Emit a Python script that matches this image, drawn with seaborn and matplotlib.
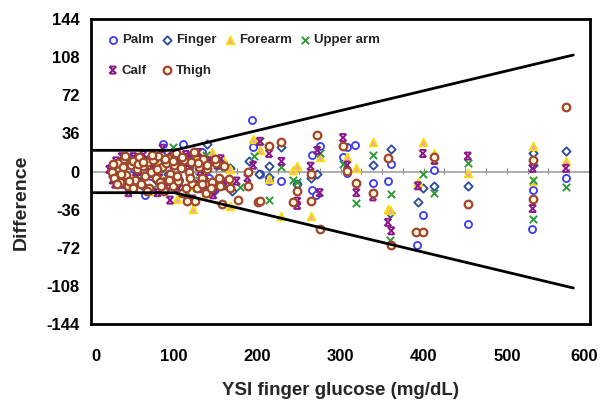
import numpy as np
import pandas as pd
import matplotlib
matplotlib.use("Agg")
import matplotlib.pyplot as plt
from matplotlib.path import Path
from matplotlib.ticker import MultipleLocator
from matplotlib.transforms import ScaledTranslation
import seaborn as sns

# ---------------- data ----------------
palm_x = [24, 30, 36, 44, 52, 58, 65, 72, 80, 86, 92, 100, 106, 111, 118, 126, 134, 142, 150, 158,
          194, 195, 203, 214, 229, 248, 266, 266, 270, 275, 303, 308, 308, 318, 339, 357, 361, 392, 399,
          413, 453, 530, 531, 571]
palm_y = [4, -6, 10, -12, 2, 14, -22, -4, 8, 26, -14, 12, -8, 26, 4, -16, 18, -6, 10, -12,
          49, 23, -2, -9, -9, -12, 16, -17, -22, 24.5, 14, 23, -1, 25, -11, -9, 7, -69, -41,
          1, -50, -54, -17, -6]

finger_x = [26, 33, 40, 48, 55, 62, 70, 78, 85, 93, 100, 108, 116, 124, 132, 140, 148, 156,
            167, 170, 190, 202, 214, 214, 229, 248, 264, 272, 339, 359, 361, 393, 399, 413, 453, 531, 532, 571]
finger_y = [-4, 8, -10, 12, 0, -14, 6, -8, 16, -2, 10, -16, 4, 14, -12, 26, -18, 8,
            3, -18, 10, -2, 5, -5, 23.5, -12, -6, -2, 6, -39, 21, -29, -16, -14, -14, 17, 6, 19]

forearm_x = [24, 31, 39, 47, 54, 62, 70, 78, 86, 94, 103, 110, 118, 123, 130, 138, 145, 152, 160,
             157, 167, 167, 195, 203, 214, 229, 243, 248, 264, 275, 308, 319, 339, 357, 359, 393, 399,
             413, 453, 531, 532, 571]
forearm_y = [2, -10, 6, -14, 10, -4, -18, 8, -8, 12, -26, 4, -14, -35, 16, -20, 18, -6, 10,
             7, 2, -33, 31, 20, -7, -42, 1, 5, -42, 14, 14, 3, 28, -35, -36, -10, 28,
             17, -1, 24, -9, 9.6]

upper_x = [27, 34, 42, 50, 58, 66, 74, 82, 90, 98, 106, 114, 122, 130, 138, 146, 154,
           147, 179, 196, 203, 214, 229, 243, 248, 275, 303, 319, 339, 359, 361, 399, 413, 453, 531, 531, 571]
upper_y = [-2, 6, -12, 10, -6, 14, -16, 2, -10, 23, 8, -18, 12, -8, 16, -12, 4,
           -10, -15, 15, 29, -27, 4, -8, -10, 17, 7, -30, 16, -65, -21, -2, -20, 8, -8, -45, -14.5]

calf_x = [22, 26, 30, 34, 38, 43, 47, 51, 56, 60, 64, 69, 73, 77, 82, 86, 90, 95, 99, 103,
          107, 112, 116, 120, 124, 129, 133, 137, 142, 147, 152, 158,
          29, 37, 45, 54, 63, 71, 80, 88, 97, 105, 114, 122, 131, 140, 149, 156,
          159, 175, 188, 195, 203, 214, 229, 248, 248, 264, 272, 275, 303, 308, 319, 339, 357, 361,
          393, 399, 413, 453, 531, 531, 571]
calf_y = [2, -8, 10, -4, -12, 6, -16, 14, 0, -10, 8, -18, 4, 12, -6, 22, -14, -27, 6, -8,
          10, -20, 6, 14, -12, 18, -16, -4, 10, -22, 6, -10,
          -12, 14, -20, -6, 16, -2, -20, -10, 14, -16, 16, -26, 0, -18, -14, 12,
          -13.5, -9, -6, 6, 28.5, 17, 9.6, -28, -32, 5, 20, -20, 32, 6, -20, -24, -48, -56,
          -13.5, 17, 10.5, 14.6, 3, -35, 3]

thigh_x = [25, 28, 32, 35, 38, 40, 42, 45, 48, 50, 53, 55, 58, 60, 63, 65, 68, 70, 72, 75,
           78, 80, 83, 85, 88, 90, 92, 95, 98, 100, 102, 105, 108, 110, 112, 115, 118, 120, 122, 125,
           128, 130, 133, 135, 138, 140, 145, 150, 155, 160,
           27, 31, 36, 41, 46, 51, 57, 62, 67, 73, 79, 84, 89, 94, 99, 104, 109, 114, 119, 124,
           129, 134, 139, 144, 149, 154,
           157, 166, 167, 177, 189, 189, 201, 203, 214, 229, 243, 248, 264, 264, 272, 275, 303, 308,
           319, 339, 357, 361, 391, 399, 413, 453, 531, 531, 571]
thigh_y = [0, -6, 8, -10, 4, 12, -3, -14, 6, 10, -8, 2, 14, -12, 5, -4, 9, -16, 0, 11,
           -6, 15, -10, 4, -18, 8, 13, -2, -14, 6, 17, -9, 3, -20, 11, -28, 0, 9, -12, -28,
           -16, 4, -6, 12, -20, 2, -10, 8, -14, 5,
           7, -12, -2, 15, -9, -16, 7, 9, -18, 16, 2, -14, 12, -8, 10, -4, 14, -16, -6, 18,
           8, -12, 6, -16, 12, -6,
           -31, -7, -16, -27, 0, -13.5, -29, -28, 24, 28, -29, -18, -2, -28, 34, -54, 24.5, 0.6,
           -11, -20, 13, -69, -57, -57, 14, -31, 10.5, -26, 61]

sites = ["Palm", "Finger", "Forearm", "Upper arm", "Calf", "Thigh"]
site_x = [palm_x, finger_x, forearm_x, upper_x, calf_x, thigh_x]
site_y = [palm_y, finger_y, forearm_y, upper_y, calf_y, thigh_y]

# accuracy limits
band_x = [0, 100, 580]
band_upper = [20, 20, 110]
band_lower = [-20, -20, -110]

x_ticks = [0, 100, 200, 300, 400, 500, 600]
y_ticks = [-144, -108, -72, -36, 0, 36, 72, 108, 144]

# ---------------- frame ----------------
df = pd.concat([pd.DataFrame({"site": s, "glucose": xs, "diff": ys})
                for s, xs, ys in zip(sites, site_x, site_y)], ignore_index=True)

sns.set_theme(style="white")
plt.rcParams["font.family"] = ["Liberation Sans", "DejaVu Sans"]
plt.rcParams["font.weight"] = "bold"

fig = plt.figure(figsize=(6.01, 4.05), dpi=100)
ax = fig.add_axes([91 / 601, 1 - 324 / 405, 499 / 601, 305 / 405])

# calf marker: x with bars top and bottom
calf_path = Path([(-1, 1), (1, -1), (-1, -1), (1, 1), (-0.8, 1), (0.8, 1), (-0.8, -1), (0.8, -1)],
                 [Path.MOVETO, Path.LINETO, Path.MOVETO, Path.LINETO,
                  Path.MOVETO, Path.LINETO, Path.MOVETO, Path.LINETO])

styles = {
    "Palm": dict(marker="o", s=26, facecolor="white", edgecolor="#3B3BF5", linewidth=1.3),
    "Finger": dict(marker="D", s=18, facecolor="white", edgecolor="#2A4A9A", linewidth=1.3),
    "Forearm": dict(marker="^", s=30, facecolor="#F6A0C8", edgecolor="#F5E000", linewidth=1.3),
    "Upper arm": dict(marker="x", s=28, color="#2E9A3A", linewidth=1.4),
    "Calf": dict(marker=calf_path, s=26, facecolor="none", edgecolor="#8A1A8A", linewidth=1.4),
    "Thigh": dict(marker="o", s=30, facecolor="#FFF6E0", edgecolor="#A0462A", linewidth=1.6),
}

ax.axhline(0, color="#A0A0A0", lw=1.2, zorder=1)

for s in sites:
    sub = df[df["site"] == s]
    sns.scatterplot(data=sub, x="glucose", y="diff", ax=ax, label=s, zorder=3, **styles[s])

ax.plot(band_x, band_upper, color="black", lw=2, zorder=4)
ax.plot(band_x, band_lower, color="black", lw=2, zorder=4)

ax.set_xlim(0, 600)
ax.set_ylim(-144, 144)
ax.set_xticks(x_ticks)
ax.set_yticks(y_ticks)
ax.set_xticklabels([str(v) for v in x_ticks], fontsize=12, fontweight="bold")
ax.set_yticklabels([str(v) for v in y_ticks], fontsize=12, fontweight="bold")
ax.tick_params(axis="x", length=0, pad=18, colors="black")
ax.tick_params(axis="y", direction="in", length=3, width=0.8, pad=8, color="#888888", labelcolor="black")

for sp in ax.spines.values():
    sp.set_color("black")
    sp.set_linewidth(2)

# nudge first / last x tick labels as in the reference
xt = ax.xaxis.get_major_ticks()
xt[0].label1.set_transform(xt[0].label1.get_transform() + ScaledTranslation(5 / 100, 0, fig.dpi_scale_trans))
xt[-1].label1.set_transform(xt[-1].label1.get_transform() + ScaledTranslation(-6 / 100, 0, fig.dpi_scale_trans))

# minor ticks on the zero line
sec = ax.secondary_xaxis(0.5)
sec.spines["bottom"].set_visible(False)
sec.spines["top"].set_visible(False)
sec.xaxis.set_major_locator(MultipleLocator(25))
sec.tick_params(axis="x", direction="inout", length=4, width=0.8, color="#888888",
                labelbottom=False, labeltop=False)

ax.set_xlabel("YSI finger glucose (mg/dL)", fontsize=13.5, fontweight="bold")
ax.set_ylabel("Difference", fontsize=14, fontweight="bold")
ax.xaxis.set_label_coords(0.5, -0.19)
ax.yaxis.set_label_coords(-0.122, 0.40)

handles, labels = ax.get_legend_handles_labels()
hmap = dict(zip(labels, handles))
order = ["Palm", "Calf", "Finger", "Thigh", "Forearm", "Upper arm"]
leg = ax.legend([hmap[o] for o in order], order, ncol=4, loc="upper left",
                bbox_to_anchor=(0.033, 0.95), frameon=False, borderpad=0, borderaxespad=0,
                handlelength=0.8, handletextpad=0.3, columnspacing=0.6, labelspacing=1.35,
                prop={"size": 9.5, "weight": "bold"})

fig.savefig("out.png", dpi=100)
